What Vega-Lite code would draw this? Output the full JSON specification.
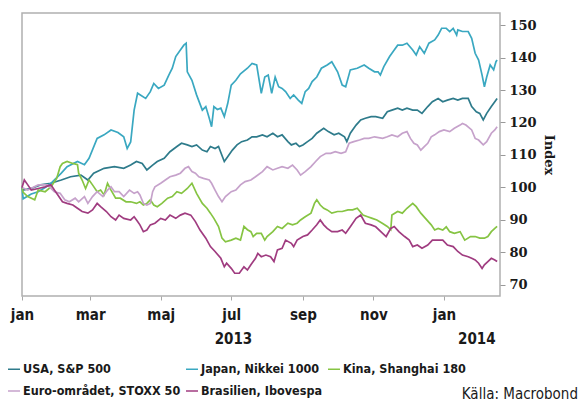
{
  "$schema": "https://vega.github.io/schema/vega-lite/v6.json",
  "width": 478,
  "height": 283,
  "autosize": {"type": "none"},
  "padding": {"left": 22, "top": 13, "right": 79, "bottom": 107},
  "background": "white",
  "title": {"text": "Källa: Macrobond", "orient": "bottom", "anchor": "end", "frame": "group", "font": "DejaVu Sans Condensed", "fontSize": 15, "fontWeight": "normal", "color": "#1a1a1a", "dx": 78, "offset": -11},
  "data": {"values": [
    {"s":"U","d":"2013-01-01","v":100},{"s":"U","d":"2013-01-02","v":99.2},{"s":"U","d":"2013-01-09","v":99.7},{"s":"U","d":"2013-01-17","v":100.8},{"s":"U","d":"2013-01-26","v":101.3},{"s":"U","d":"2013-02-04","v":102.3},{"s":"U","d":"2013-02-12","v":103.3},{"s":"U","d":"2013-02-21","v":103.8},{"s":"U","d":"2013-02-27","v":102.3},{"s":"U","d":"2013-03-04","v":104.4},{"s":"U","d":"2013-03-13","v":105.9},{"s":"U","d":"2013-03-22","v":106.4},{"s":"U","d":"2013-03-30","v":105.9},{"s":"U","d":"2013-04-05","v":106.9},{"s":"U","d":"2013-04-10","v":108},{"s":"U","d":"2013-04-15","v":107.4},{"s":"U","d":"2013-04-19","v":105.4},{"s":"U","d":"2013-04-24","v":106.9},{"s":"U","d":"2013-04-28","v":108},{"s":"U","d":"2013-05-04","v":109},{"s":"U","d":"2013-05-09","v":111},{"s":"U","d":"2013-05-15","v":112.6},{"s":"U","d":"2013-05-19","v":113.6},{"s":"U","d":"2013-05-24","v":113.1},{"s":"U","d":"2013-05-28","v":112.6},{"s":"U","d":"2013-06-01","v":113.1},{"s":"U","d":"2013-06-06","v":111.5},{"s":"U","d":"2013-06-10","v":111},{"s":"U","d":"2013-06-13","v":112.6},{"s":"U","d":"2013-06-17","v":112},{"s":"U","d":"2013-06-20","v":112.6},{"s":"U","d":"2013-06-25","v":108},{"s":"U","d":"2013-06-27","v":109},{"s":"U","d":"2013-07-02","v":111.5},{"s":"U","d":"2013-07-06","v":113.1},{"s":"U","d":"2013-07-10","v":114.1},{"s":"U","d":"2013-07-15","v":114.6},{"s":"U","d":"2013-07-19","v":115.6},{"s":"U","d":"2013-07-23","v":115.6},{"s":"U","d":"2013-07-28","v":116.2},{"s":"U","d":"2013-08-01","v":115.6},{"s":"U","d":"2013-08-06","v":116.7},{"s":"U","d":"2013-08-10","v":115.6},{"s":"U","d":"2013-08-14","v":116.2},{"s":"U","d":"2013-08-19","v":114.1},{"s":"U","d":"2013-08-22","v":113.1},{"s":"U","d":"2013-08-26","v":113.6},{"s":"U","d":"2013-08-29","v":112.6},{"s":"U","d":"2013-09-01","v":113.1},{"s":"U","d":"2013-09-05","v":114.1},{"s":"U","d":"2013-09-09","v":115.1},{"s":"U","d":"2013-09-13","v":116.7},{"s":"U","d":"2013-09-19","v":118.2},{"s":"U","d":"2013-09-23","v":117.2},{"s":"U","d":"2013-09-28","v":116.2},{"s":"U","d":"2013-10-02","v":116.7},{"s":"U","d":"2013-10-07","v":115.6},{"s":"U","d":"2013-10-09","v":114.1},{"s":"U","d":"2013-10-12","v":116.7},{"s":"U","d":"2013-10-17","v":119.2},{"s":"U","d":"2013-10-21","v":120.8},{"s":"U","d":"2013-10-25","v":121.3},{"s":"U","d":"2013-10-30","v":121.8},{"s":"U","d":"2013-11-03","v":121.8},{"s":"U","d":"2013-11-09","v":121.3},{"s":"U","d":"2013-11-13","v":123.3},{"s":"U","d":"2013-11-17","v":123.8},{"s":"U","d":"2013-11-22","v":124.4},{"s":"U","d":"2013-11-26","v":123.8},{"s":"U","d":"2013-11-30","v":124.4},{"s":"U","d":"2013-12-05","v":123.8},{"s":"U","d":"2013-12-09","v":123.8},{"s":"U","d":"2013-12-13","v":122.8},{"s":"U","d":"2013-12-18","v":124.9},{"s":"U","d":"2013-12-22","v":126.4},{"s":"U","d":"2013-12-27","v":127.4},{"s":"U","d":"2013-12-31","v":126.4},{"s":"U","d":"2014-01-04","v":126.9},{"s":"U","d":"2014-01-09","v":127.4},{"s":"U","d":"2014-01-13","v":126.9},{"s":"U","d":"2014-01-17","v":127.4},{"s":"U","d":"2014-01-22","v":127.4},{"s":"U","d":"2014-01-25","v":124.9},{"s":"U","d":"2014-01-29","v":123.3},{"s":"U","d":"2014-02-01","v":122.8},{"s":"U","d":"2014-02-04","v":120.8},{"s":"U","d":"2014-02-07","v":122.8},{"s":"U","d":"2014-02-11","v":124.9},{"s":"U","d":"2014-02-14","v":126.4},{"s":"U","d":"2014-02-16","v":127.4},
    {"s":"J","d":"2013-01-01","v":100},{"s":"J","d":"2013-01-02","v":96.5},{"s":"J","d":"2013-01-09","v":98},{"s":"J","d":"2013-01-15","v":98.7},{"s":"J","d":"2013-01-21","v":100},{"s":"J","d":"2013-01-26","v":101.3},{"s":"J","d":"2013-02-04","v":104.4},{"s":"J","d":"2013-02-09","v":106.4},{"s":"J","d":"2013-02-18","v":108},{"s":"J","d":"2013-02-24","v":107},{"s":"J","d":"2013-02-28","v":109},{"s":"J","d":"2013-03-07","v":115.1},{"s":"J","d":"2013-03-13","v":116.2},{"s":"J","d":"2013-03-19","v":117.7},{"s":"J","d":"2013-03-25","v":116.9},{"s":"J","d":"2013-03-30","v":115.6},{"s":"J","d":"2013-04-02","v":112},{"s":"J","d":"2013-04-05","v":114},{"s":"J","d":"2013-04-08","v":123.8},{"s":"J","d":"2013-04-11","v":129},{"s":"J","d":"2013-04-18","v":127.4},{"s":"J","d":"2013-04-22","v":129.5},{"s":"J","d":"2013-04-25","v":132},{"s":"J","d":"2013-04-29","v":130.5},{"s":"J","d":"2013-05-04","v":131.5},{"s":"J","d":"2013-05-08","v":134.6},{"s":"J","d":"2013-05-11","v":136.7},{"s":"J","d":"2013-05-14","v":140.3},{"s":"J","d":"2013-05-18","v":142.3},{"s":"J","d":"2013-05-21","v":143.8},{"s":"J","d":"2013-05-23","v":144.4},{"s":"J","d":"2013-05-24","v":135.6},{"s":"J","d":"2013-05-28","v":133},{"s":"J","d":"2013-06-01","v":128.5},{"s":"J","d":"2013-06-06","v":123.8},{"s":"J","d":"2013-06-09","v":124.9},{"s":"J","d":"2013-06-12","v":121.3},{"s":"J","d":"2013-06-14","v":118.7},{"s":"J","d":"2013-06-16","v":124.9},{"s":"J","d":"2013-06-19","v":124},{"s":"J","d":"2013-06-22","v":124.4},{"s":"J","d":"2013-06-25","v":121.8},{"s":"J","d":"2013-06-28","v":125.9},{"s":"J","d":"2013-07-01","v":131.5},{"s":"J","d":"2013-07-05","v":133},{"s":"J","d":"2013-07-09","v":135},{"s":"J","d":"2013-07-15","v":136.7},{"s":"J","d":"2013-07-19","v":138.2},{"s":"J","d":"2013-07-23","v":137.7},{"s":"J","d":"2013-07-27","v":129},{"s":"J","d":"2013-07-30","v":134},{"s":"J","d":"2013-08-02","v":134.6},{"s":"J","d":"2013-08-05","v":129},{"s":"J","d":"2013-08-08","v":134},{"s":"J","d":"2013-08-11","v":131},{"s":"J","d":"2013-08-14","v":130.5},{"s":"J","d":"2013-08-17","v":129.5},{"s":"J","d":"2013-08-21","v":127.4},{"s":"J","d":"2013-08-24","v":128.5},{"s":"J","d":"2013-08-28","v":126.9},{"s":"J","d":"2013-08-31","v":125.9},{"s":"J","d":"2013-09-03","v":129.5},{"s":"J","d":"2013-09-06","v":130.5},{"s":"J","d":"2013-09-09","v":132.6},{"s":"J","d":"2013-09-13","v":134},{"s":"J","d":"2013-09-17","v":136.7},{"s":"J","d":"2013-09-22","v":137.7},{"s":"J","d":"2013-09-26","v":138.7},{"s":"J","d":"2013-10-01","v":135.6},{"s":"J","d":"2013-10-05","v":131.5},{"s":"J","d":"2013-10-08","v":131},{"s":"J","d":"2013-10-12","v":136.2},{"s":"J","d":"2013-10-18","v":136.7},{"s":"J","d":"2013-10-24","v":137.7},{"s":"J","d":"2013-10-28","v":136.7},{"s":"J","d":"2013-11-02","v":135.6},{"s":"J","d":"2013-11-05","v":135.6},{"s":"J","d":"2013-11-07","v":134.6},{"s":"J","d":"2013-11-10","v":137.2},{"s":"J","d":"2013-11-15","v":140.3},{"s":"J","d":"2013-11-19","v":142.3},{"s":"J","d":"2013-11-22","v":143.8},{"s":"J","d":"2013-11-26","v":143.8},{"s":"J","d":"2013-11-30","v":144.4},{"s":"J","d":"2013-12-05","v":142.3},{"s":"J","d":"2013-12-08","v":140.8},{"s":"J","d":"2013-12-11","v":143.3},{"s":"J","d":"2013-12-13","v":142.3},{"s":"J","d":"2013-12-15","v":141.3},{"s":"J","d":"2013-12-19","v":144.4},{"s":"J","d":"2013-12-24","v":145.4},{"s":"J","d":"2013-12-27","v":146.9},{"s":"J","d":"2013-12-30","v":149},{"s":"J","d":"2014-01-03","v":149},{"s":"J","d":"2014-01-06","v":148},{"s":"J","d":"2014-01-09","v":149},{"s":"J","d":"2014-01-12","v":146.9},{"s":"J","d":"2014-01-13","v":148.5},{"s":"J","d":"2014-01-17","v":148},{"s":"J","d":"2014-01-22","v":148},{"s":"J","d":"2014-01-25","v":145.9},{"s":"J","d":"2014-01-28","v":141.3},{"s":"J","d":"2014-01-31","v":139.2},{"s":"J","d":"2014-02-03","v":134.6},{"s":"J","d":"2014-02-05","v":131},{"s":"J","d":"2014-02-07","v":134},{"s":"J","d":"2014-02-10","v":137.7},{"s":"J","d":"2014-02-13","v":136.2},{"s":"J","d":"2014-02-15","v":138.7},{"s":"J","d":"2014-02-16","v":139.2},
    {"s":"K","d":"2013-01-01","v":100},{"s":"K","d":"2013-01-02","v":98.5},{"s":"K","d":"2013-01-06","v":97.2},{"s":"K","d":"2013-01-12","v":96.2},{"s":"K","d":"2013-01-15","v":99.2},{"s":"K","d":"2013-01-21","v":98.7},{"s":"K","d":"2013-01-26","v":100.2},{"s":"K","d":"2013-01-31","v":102.8},{"s":"K","d":"2013-02-03","v":106.4},{"s":"K","d":"2013-02-05","v":107.4},{"s":"K","d":"2013-02-09","v":108},{"s":"K","d":"2013-02-14","v":107.4},{"s":"K","d":"2013-02-18","v":107},{"s":"K","d":"2013-02-19","v":104.4},{"s":"K","d":"2013-02-22","v":102.3},{"s":"K","d":"2013-02-25","v":99.7},{"s":"K","d":"2013-02-28","v":102.3},{"s":"K","d":"2013-03-03","v":100.8},{"s":"K","d":"2013-03-07","v":98.7},{"s":"K","d":"2013-03-10","v":99.2},{"s":"K","d":"2013-03-13","v":97.7},{"s":"K","d":"2013-03-16","v":101.3},{"s":"K","d":"2013-03-19","v":99.2},{"s":"K","d":"2013-03-23","v":96.7},{"s":"K","d":"2013-03-27","v":96.7},{"s":"K","d":"2013-04-01","v":95.6},{"s":"K","d":"2013-04-05","v":95.6},{"s":"K","d":"2013-04-10","v":95.1},{"s":"K","d":"2013-04-13","v":95.6},{"s":"K","d":"2013-04-16","v":94.6},{"s":"K","d":"2013-04-19","v":95.1},{"s":"K","d":"2013-04-22","v":96.2},{"s":"K","d":"2013-04-25","v":94.6},{"s":"K","d":"2013-04-28","v":94.1},{"s":"K","d":"2013-05-02","v":95.1},{"s":"K","d":"2013-05-07","v":96.7},{"s":"K","d":"2013-05-11","v":97.2},{"s":"K","d":"2013-05-15","v":98.7},{"s":"K","d":"2013-05-19","v":98.2},{"s":"K","d":"2013-05-24","v":99.7},{"s":"K","d":"2013-05-28","v":101.3},{"s":"K","d":"2013-06-01","v":98.2},{"s":"K","d":"2013-06-06","v":95.1},{"s":"K","d":"2013-06-10","v":93.6},{"s":"K","d":"2013-06-13","v":92.1},{"s":"K","d":"2013-06-16","v":90.5},{"s":"K","d":"2013-06-20","v":88},{"s":"K","d":"2013-06-23","v":84.4},{"s":"K","d":"2013-06-26","v":83.3},{"s":"K","d":"2013-07-01","v":83.8},{"s":"K","d":"2013-07-05","v":84.4},{"s":"K","d":"2013-07-09","v":83.8},{"s":"K","d":"2013-07-12","v":88},{"s":"K","d":"2013-07-15","v":87},{"s":"K","d":"2013-07-18","v":86.4},{"s":"K","d":"2013-07-20","v":84.9},{"s":"K","d":"2013-07-23","v":85.9},{"s":"K","d":"2013-07-27","v":85.9},{"s":"K","d":"2013-07-30","v":83.8},{"s":"K","d":"2013-08-01","v":84.9},{"s":"K","d":"2013-08-06","v":86.4},{"s":"K","d":"2013-08-10","v":88},{"s":"K","d":"2013-08-14","v":87.4},{"s":"K","d":"2013-08-19","v":89},{"s":"K","d":"2013-08-23","v":88.5},{"s":"K","d":"2013-08-27","v":89},{"s":"K","d":"2013-08-30","v":90},{"s":"K","d":"2013-09-03","v":91},{"s":"K","d":"2013-09-08","v":92.1},{"s":"K","d":"2013-09-11","v":95.1},{"s":"K","d":"2013-09-13","v":96.2},{"s":"K","d":"2013-09-16","v":94.6},{"s":"K","d":"2013-09-19","v":93.6},{"s":"K","d":"2013-09-22","v":93.1},{"s":"K","d":"2013-09-26","v":92.1},{"s":"K","d":"2013-10-01","v":92.6},{"s":"K","d":"2013-10-05","v":92.6},{"s":"K","d":"2013-10-10","v":93.1},{"s":"K","d":"2013-10-14","v":93.1},{"s":"K","d":"2013-10-18","v":93.6},{"s":"K","d":"2013-10-23","v":91.5},{"s":"K","d":"2013-10-27","v":91},{"s":"K","d":"2013-10-31","v":90.5},{"s":"K","d":"2013-11-04","v":90},{"s":"K","d":"2013-11-09","v":88.9},{"s":"K","d":"2013-11-13","v":88},{"s":"K","d":"2013-11-16","v":87},{"s":"K","d":"2013-11-17","v":91.5},{"s":"K","d":"2013-11-22","v":92.6},{"s":"K","d":"2013-11-26","v":92.1},{"s":"K","d":"2013-11-30","v":93.6},{"s":"K","d":"2013-12-05","v":95.1},{"s":"K","d":"2013-12-08","v":94.1},{"s":"K","d":"2013-12-12","v":92.1},{"s":"K","d":"2013-12-16","v":90.5},{"s":"K","d":"2013-12-21","v":88.5},{"s":"K","d":"2013-12-24","v":86.9},{"s":"K","d":"2013-12-27","v":87.4},{"s":"K","d":"2013-12-31","v":86.9},{"s":"K","d":"2014-01-03","v":87.9},{"s":"K","d":"2014-01-06","v":86.4},{"s":"K","d":"2014-01-10","v":85.9},{"s":"K","d":"2014-01-15","v":86.4},{"s":"K","d":"2014-01-19","v":83.8},{"s":"K","d":"2014-01-24","v":84.9},{"s":"K","d":"2014-01-28","v":84.9},{"s":"K","d":"2014-02-01","v":84.4},{"s":"K","d":"2014-02-05","v":84.4},{"s":"K","d":"2014-02-08","v":84.9},{"s":"K","d":"2014-02-11","v":86.4},{"s":"K","d":"2014-02-14","v":87.4},{"s":"K","d":"2014-02-16","v":88},
    {"s":"E","d":"2013-01-01","v":100},{"s":"E","d":"2013-01-06","v":99.2},{"s":"E","d":"2013-01-15","v":100.8},{"s":"E","d":"2013-01-23","v":100.8},{"s":"E","d":"2013-01-29","v":98.7},{"s":"E","d":"2013-02-03","v":98.2},{"s":"E","d":"2013-02-07","v":96.2},{"s":"E","d":"2013-02-11","v":95.6},{"s":"E","d":"2013-02-16","v":96.7},{"s":"E","d":"2013-02-19","v":95.6},{"s":"E","d":"2013-02-24","v":97.2},{"s":"E","d":"2013-02-27","v":95.1},{"s":"E","d":"2013-03-03","v":97.2},{"s":"E","d":"2013-03-07","v":98.7},{"s":"E","d":"2013-03-12","v":97.2},{"s":"E","d":"2013-03-16","v":99.2},{"s":"E","d":"2013-03-19","v":100.2},{"s":"E","d":"2013-03-22","v":98.7},{"s":"E","d":"2013-03-26","v":98.7},{"s":"E","d":"2013-03-30","v":97.2},{"s":"E","d":"2013-04-04","v":99.2},{"s":"E","d":"2013-04-08","v":98.2},{"s":"E","d":"2013-04-11","v":98.7},{"s":"E","d":"2013-04-13","v":97.7},{"s":"E","d":"2013-04-16","v":95.1},{"s":"E","d":"2013-04-19","v":94.6},{"s":"E","d":"2013-04-22","v":95.1},{"s":"E","d":"2013-04-24","v":98.7},{"s":"E","d":"2013-04-26","v":100.2},{"s":"E","d":"2013-05-01","v":101.3},{"s":"E","d":"2013-05-05","v":102.3},{"s":"E","d":"2013-05-09","v":103.3},{"s":"E","d":"2013-05-14","v":103.8},{"s":"E","d":"2013-05-18","v":104.4},{"s":"E","d":"2013-05-22","v":105.9},{"s":"E","d":"2013-05-25","v":106.4},{"s":"E","d":"2013-05-28","v":104.9},{"s":"E","d":"2013-05-31","v":104.4},{"s":"E","d":"2013-06-03","v":103.3},{"s":"E","d":"2013-06-07","v":102.8},{"s":"E","d":"2013-06-12","v":102.3},{"s":"E","d":"2013-06-14","v":101.3},{"s":"E","d":"2013-06-17","v":99.2},{"s":"E","d":"2013-06-20","v":97.2},{"s":"E","d":"2013-06-23","v":95.6},{"s":"E","d":"2013-06-26","v":97.2},{"s":"E","d":"2013-07-01","v":98.7},{"s":"E","d":"2013-07-05","v":99.2},{"s":"E","d":"2013-07-09","v":100.8},{"s":"E","d":"2013-07-13","v":101.8},{"s":"E","d":"2013-07-18","v":102.3},{"s":"E","d":"2013-07-22","v":103.3},{"s":"E","d":"2013-07-28","v":104.9},{"s":"E","d":"2013-08-01","v":106.4},{"s":"E","d":"2013-08-06","v":105.4},{"s":"E","d":"2013-08-10","v":105.9},{"s":"E","d":"2013-08-14","v":106.4},{"s":"E","d":"2013-08-19","v":105.9},{"s":"E","d":"2013-08-23","v":106.9},{"s":"E","d":"2013-08-27","v":105.4},{"s":"E","d":"2013-08-30","v":103.8},{"s":"E","d":"2013-09-03","v":104.9},{"s":"E","d":"2013-09-08","v":106.4},{"s":"E","d":"2013-09-12","v":108},{"s":"E","d":"2013-09-16","v":109.5},{"s":"E","d":"2013-09-21","v":110.5},{"s":"E","d":"2013-09-25","v":110.5},{"s":"E","d":"2013-09-29","v":111},{"s":"E","d":"2013-10-04","v":110.5},{"s":"E","d":"2013-10-08","v":111},{"s":"E","d":"2013-10-11","v":113.6},{"s":"E","d":"2013-10-15","v":114.1},{"s":"E","d":"2013-10-20","v":114.6},{"s":"E","d":"2013-10-24","v":115.1},{"s":"E","d":"2013-10-28","v":115.1},{"s":"E","d":"2013-11-02","v":115.6},{"s":"E","d":"2013-11-09","v":115.1},{"s":"E","d":"2013-11-13","v":115.6},{"s":"E","d":"2013-11-17","v":116.2},{"s":"E","d":"2013-11-22","v":115.6},{"s":"E","d":"2013-11-26","v":116.7},{"s":"E","d":"2013-11-30","v":117.2},{"s":"E","d":"2013-12-03","v":115.1},{"s":"E","d":"2013-12-06","v":113.6},{"s":"E","d":"2013-12-09","v":113.1},{"s":"E","d":"2013-12-12","v":111.5},{"s":"E","d":"2013-12-15","v":112.6},{"s":"E","d":"2013-12-18","v":113.6},{"s":"E","d":"2013-12-21","v":115.6},{"s":"E","d":"2013-12-24","v":116.2},{"s":"E","d":"2013-12-28","v":117.2},{"s":"E","d":"2014-01-01","v":117.7},{"s":"E","d":"2014-01-06","v":117.2},{"s":"E","d":"2014-01-10","v":118.2},{"s":"E","d":"2014-01-15","v":119.2},{"s":"E","d":"2014-01-17","v":119.7},{"s":"E","d":"2014-01-20","v":119.2},{"s":"E","d":"2014-01-25","v":117.7},{"s":"E","d":"2014-01-28","v":115.1},{"s":"E","d":"2014-01-31","v":114.6},{"s":"E","d":"2014-02-04","v":113.1},{"s":"E","d":"2014-02-07","v":114.1},{"s":"E","d":"2014-02-11","v":116.7},{"s":"E","d":"2014-02-14","v":117.7},{"s":"E","d":"2014-02-16","v":118.7},
    {"s":"B","d":"2013-01-01","v":100},{"s":"B","d":"2013-01-03","v":102.3},{"s":"B","d":"2013-01-06","v":100.8},{"s":"B","d":"2013-01-09","v":99.2},{"s":"B","d":"2013-01-15","v":99.7},{"s":"B","d":"2013-01-21","v":100.2},{"s":"B","d":"2013-01-26","v":100.8},{"s":"B","d":"2013-01-29","v":99.2},{"s":"B","d":"2013-02-01","v":97.7},{"s":"B","d":"2013-02-05","v":95.6},{"s":"B","d":"2013-02-09","v":95.1},{"s":"B","d":"2013-02-14","v":94.6},{"s":"B","d":"2013-02-18","v":93.6},{"s":"B","d":"2013-02-22","v":92.6},{"s":"B","d":"2013-02-27","v":92.1},{"s":"B","d":"2013-03-03","v":93.1},{"s":"B","d":"2013-03-07","v":95.1},{"s":"B","d":"2013-03-10","v":94.1},{"s":"B","d":"2013-03-15","v":92.6},{"s":"B","d":"2013-03-19","v":91},{"s":"B","d":"2013-03-23","v":90},{"s":"B","d":"2013-03-26","v":91.5},{"s":"B","d":"2013-03-30","v":90.5},{"s":"B","d":"2013-04-05","v":90},{"s":"B","d":"2013-04-08","v":91},{"s":"B","d":"2013-04-11","v":89.5},{"s":"B","d":"2013-04-13","v":88.5},{"s":"B","d":"2013-04-16","v":86.4},{"s":"B","d":"2013-04-19","v":86.9},{"s":"B","d":"2013-04-22","v":88.5},{"s":"B","d":"2013-04-26","v":89},{"s":"B","d":"2013-05-01","v":90.5},{"s":"B","d":"2013-05-05","v":90},{"s":"B","d":"2013-05-09","v":91.5},{"s":"B","d":"2013-05-14","v":90.5},{"s":"B","d":"2013-05-18","v":91.5},{"s":"B","d":"2013-05-22","v":92.1},{"s":"B","d":"2013-05-27","v":91.5},{"s":"B","d":"2013-05-31","v":89.5},{"s":"B","d":"2013-06-04","v":86.9},{"s":"B","d":"2013-06-09","v":84.4},{"s":"B","d":"2013-06-13","v":81.8},{"s":"B","d":"2013-06-17","v":80.3},{"s":"B","d":"2013-06-22","v":78.2},{"s":"B","d":"2013-06-25","v":75.6},{"s":"B","d":"2013-06-27","v":76.7},{"s":"B","d":"2013-07-01","v":75.1},{"s":"B","d":"2013-07-04","v":73.6},{"s":"B","d":"2013-07-08","v":73.6},{"s":"B","d":"2013-07-12","v":75.6},{"s":"B","d":"2013-07-15","v":74.6},{"s":"B","d":"2013-07-18","v":76.2},{"s":"B","d":"2013-07-22","v":78.2},{"s":"B","d":"2013-07-24","v":79.7},{"s":"B","d":"2013-07-27","v":78.7},{"s":"B","d":"2013-07-31","v":79.2},{"s":"B","d":"2013-08-04","v":78.7},{"s":"B","d":"2013-08-07","v":77.2},{"s":"B","d":"2013-08-10","v":80.8},{"s":"B","d":"2013-08-14","v":81.3},{"s":"B","d":"2013-08-17","v":83.8},{"s":"B","d":"2013-08-22","v":82.8},{"s":"B","d":"2013-08-24","v":81.8},{"s":"B","d":"2013-08-27","v":83.8},{"s":"B","d":"2013-09-01","v":84.9},{"s":"B","d":"2013-09-05","v":85.4},{"s":"B","d":"2013-09-09","v":86.9},{"s":"B","d":"2013-09-13","v":88.5},{"s":"B","d":"2013-09-16","v":90},{"s":"B","d":"2013-09-19","v":88.5},{"s":"B","d":"2013-09-22","v":87.4},{"s":"B","d":"2013-09-26","v":86.4},{"s":"B","d":"2013-10-01","v":86.4},{"s":"B","d":"2013-10-05","v":86.9},{"s":"B","d":"2013-10-08","v":85.9},{"s":"B","d":"2013-10-12","v":87.9},{"s":"B","d":"2013-10-17","v":90.5},{"s":"B","d":"2013-10-21","v":91.5},{"s":"B","d":"2013-10-25","v":89},{"s":"B","d":"2013-10-30","v":88.5},{"s":"B","d":"2013-11-03","v":87.9},{"s":"B","d":"2013-11-09","v":85.9},{"s":"B","d":"2013-11-12","v":84.9},{"s":"B","d":"2013-11-16","v":87.4},{"s":"B","d":"2013-11-19","v":88},{"s":"B","d":"2013-11-23","v":86.4},{"s":"B","d":"2013-11-28","v":84.9},{"s":"B","d":"2013-12-02","v":83.8},{"s":"B","d":"2013-12-05","v":81.8},{"s":"B","d":"2013-12-09","v":82.3},{"s":"B","d":"2013-12-13","v":81.3},{"s":"B","d":"2013-12-18","v":82.3},{"s":"B","d":"2013-12-22","v":83.8},{"s":"B","d":"2013-12-27","v":83.8},{"s":"B","d":"2013-12-31","v":83.8},{"s":"B","d":"2014-01-04","v":82.3},{"s":"B","d":"2014-01-09","v":81.8},{"s":"B","d":"2014-01-13","v":80.3},{"s":"B","d":"2014-01-17","v":79.2},{"s":"B","d":"2014-01-22","v":78.7},{"s":"B","d":"2014-01-25","v":78.2},{"s":"B","d":"2014-01-28","v":77.7},{"s":"B","d":"2014-01-31","v":76.7},{"s":"B","d":"2014-02-03","v":75.1},{"s":"B","d":"2014-02-05","v":76.2},{"s":"B","d":"2014-02-08","v":77.2},{"s":"B","d":"2014-02-11","v":78.2},{"s":"B","d":"2014-02-14","v":77.7},{"s":"B","d":"2014-02-16","v":77.2}
  ]},
  "transform": [
    {"lookup": "s", "from": {"data": {"values": [
      {"s": "U", "name": "USA, S&P 500"},
      {"s": "J", "name": "Japan, Nikkei 1000"},
      {"s": "K", "name": "Kina, Shanghai 180"},
      {"s": "E", "name": "Euro-området, STOXX 50"},
      {"s": "B", "name": "Brasilien, Ibovespa"}
    ]}, "key": "s", "fields": ["name"]}}
  ],
  "layer": [
    {
      "mark": {"type": "line", "strokeWidth": 1.7, "interpolate": "linear"},
      "encoding": {
        "x": {"field": "d", "type": "temporal",
          "scale": {"type": "utc", "domain": [{"year": 2013, "month": 1, "date": 1, "utc": true}, {"year": 2014, "month": 2, "date": 18, "hours": 12, "utc": true}]},
          "axis": {"orient": "bottom", "title": null, "grid": false, "domain": false,
            "values": [{"year": 2013, "month": 1, "date": 1, "utc": true}, {"year": 2013, "month": 3, "date": 1, "utc": true}, {"year": 2013, "month": 5, "date": 1, "utc": true}, {"year": 2013, "month": 7, "date": 1, "utc": true}, {"year": 2013, "month": 9, "date": 1, "utc": true}, {"year": 2013, "month": 11, "date": 1, "utc": true}, {"year": 2014, "month": 1, "date": 1, "utc": true}],
            "labelExpr": "['jan','feb','mar','apr','maj','jun','jul','aug','sep','okt','nov','dec'][utcmonth(datum.value)]",
            "labelFlush": false, "labelOverlap": false, "tickColor": "#a8a8a8", "tickSize": 4, "tickWidth": 1,
            "labelFont": "DejaVu Sans Condensed", "labelFontWeight": "bold", "labelFontSize": 15, "labelColor": "#1a1a1a", "labelPadding": 7}},
        "y": {"field": "v", "type": "quantitative",
          "scale": {"domain": [66.6, 153.7], "nice": false, "zero": false},
          "axis": {"orient": "right", "values": [70, 80, 90, 100, 110, 120, 130, 140, 150], "grid": false, "domain": false, "labelOverlap": false,
            "tickColor": "#999999", "tickSize": 5, "labelFont": "DejaVu Serif", "labelFontWeight": "bold", "labelFontSize": 13, "labelColor": "#1a1a1a", "labelPadding": 4,
            "title": "Index", "titleFont": "DejaVu Serif", "titleFontWeight": "bold", "titleFontSize": 13, "titleColor": "#1a1a1a", "titleAngle": 90, "titlePadding": 5}},
        "color": {"field": "name", "type": "nominal",
          "scale": {"domain": ["USA, S&P 500", "Japan, Nikkei 1000", "Kina, Shanghai 180", "Euro-området, STOXX 50", "Brasilien, Ibovespa"],
                    "range": ["#2e7b8b", "#3aa8c1", "#86c443", "#c6a2cb", "#a03c80"]},
          "legend": {"title": null}}
      }
    },
    {
      "mark": {"type": "point", "opacity": 0},
      "encoding": {
        "x": {"field": "d", "type": "temporal",
          "axis": {"orient": "bottom", "title": null, "grid": false, "domain": false, "ticks": false,
            "values": [{"year": 2013, "month": 7, "date": 2, "hours": 12, "utc": true}, {"year": 2014, "month": 1, "date": 29, "utc": true}],
            "labelExpr": "utcFormat(datum.value, '%Y')", "labelFlush": false, "labelOverlap": false,
            "labelFont": "DejaVu Sans Condensed", "labelFontWeight": "bold", "labelFontSize": 15, "labelColor": "#1a1a1a", "labelPadding": 35}}
      }
    }
  ],
  "resolve": {"axis": {"x": "independent"}},
  "config": {
    "view": {"stroke": "#b0b0b0", "strokeWidth": 1.5},
    "legend": {"orient": "none", "legendX": -15, "legendY": 349, "direction": "horizontal", "columns": 3, "padding": 0,
      "symbolType": "stroke", "symbolSize": 144, "symbolStrokeWidth": 1.5, "labelFont": "DejaVu Sans Condensed", "labelFontWeight": "bold",
      "labelFontSize": 12.5, "labelColor": "#1a1a1a", "labelOffset": 2, "columnPadding": 2, "rowPadding": 8, "labelLimit": 300}
  }
}
